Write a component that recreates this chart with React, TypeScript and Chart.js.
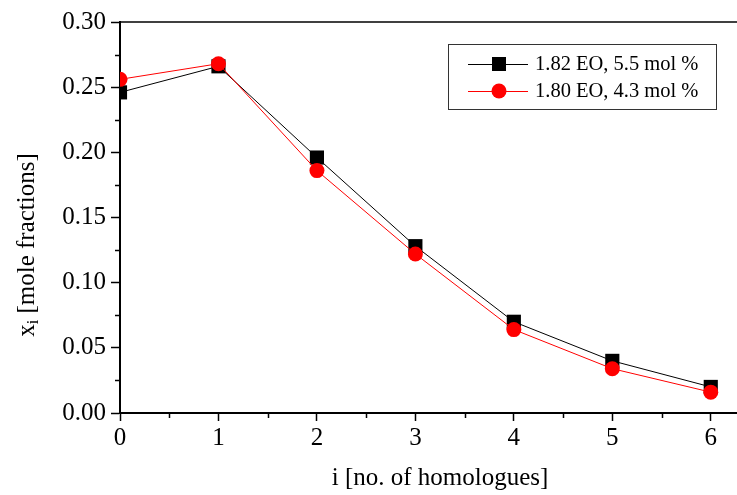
import React, { useEffect, useRef } from 'react';
import { Chart, registerables } from 'chart.js';
Chart.register(...registerables);

const homologues = [0, 1, 2, 3, 4, 5, 6];
const seriesA = [0.246, 0.266, 0.196, 0.128, 0.07, 0.04, 0.02];
const seriesB = [0.256, 0.268, 0.186, 0.122, 0.064, 0.034, 0.016];
const labelA = '1.82 EO, 5.5 mol %';
const labelB = '1.80 EO, 4.3 mol %';
const xTickValues = [0, 1, 2, 3, 4, 5, 6];
const xMinorValues = [0.5, 1.5, 2.5, 3.5, 4.5, 5.5];
const yTickValues = [0, 0.05, 0.1, 0.15, 0.2, 0.25, 0.3];
const yMinorValues = [0.025, 0.075, 0.125, 0.175, 0.225, 0.275];
const xTitle = 'i [no. of homologues]';
const yTitleMain = 'x';
const yTitleSub = 'i';
const yTitleRest = ' [mole fractions]';

const FONT = "'Liberation Serif', 'Times New Roman', serif";

const decoPlugin = {
  id: 'deco',
  afterDraw(chart: any) {
    const ctx = chart.ctx;
    const { left, right, top, bottom } = chart.chartArea;
    const xs = chart.scales.x;
    const ys = chart.scales.y;
    ctx.save();
    // top frame line
    ctx.strokeStyle = '#000';
    ctx.lineWidth = 1.5;
    ctx.beginPath();
    ctx.moveTo(left, top);
    ctx.lineTo(right, top);
    ctx.stroke();
    // minor ticks
    ctx.lineWidth = 1.5;
    ctx.beginPath();
    xMinorValues.forEach((v) => {
      const px = Math.round(xs.getPixelForValue(v)) + 0.5;
      ctx.moveTo(px, bottom);
      ctx.lineTo(px, bottom + 5);
    });
    yMinorValues.forEach((v) => {
      const py = Math.round(ys.getPixelForValue(v)) + 0.5;
      ctx.moveTo(left, py);
      ctx.lineTo(left - 5, py);
    });
    ctx.stroke();

    // y title with subscript
    ctx.translate(27, 245);
    ctx.rotate(-Math.PI / 2);
    ctx.fillStyle = '#000';
    ctx.textBaseline = 'middle';
    ctx.textAlign = 'left';
    ctx.font = `25px ${FONT}`;
    const w1 = ctx.measureText(yTitleMain).width;
    const w3 = ctx.measureText(yTitleRest).width;
    ctx.font = `16px ${FONT}`;
    const w2 = ctx.measureText(yTitleSub).width;
    const start = -(w1 + w2 + w3) / 2;
    ctx.font = `25px ${FONT}`;
    ctx.fillText(yTitleMain, start, 0);
    ctx.font = `16px ${FONT}`;
    ctx.fillText(yTitleSub, start + w1, 7);
    ctx.font = `25px ${FONT}`;
    ctx.fillText(yTitleRest, start + w1 + w2, 0);
    ctx.restore();

    // legend
    ctx.save();
    ctx.strokeStyle = '#333';
    ctx.lineWidth = 1;
    ctx.strokeRect(448.5, 44.5, 268, 65);
    const entries = chart.data.datasets.map((ds: any, i: number) => ({ ds, y: i === 0 ? 64 : 91 }));
    entries.forEach(({ ds, y }: any) => {
      ctx.strokeStyle = ds.borderColor;
      ctx.lineWidth = 1;
      ctx.beginPath();
      ctx.moveTo(468, y + 0.5);
      ctx.lineTo(528, y + 0.5);
      ctx.stroke();
      ctx.fillStyle = ds.backgroundColor;
      if (ds.pointStyle === 'rect') {
        ctx.fillRect(492, y - 7, 14, 14);
      } else {
        ctx.beginPath();
        ctx.arc(499, y, 7.5, 0, Math.PI * 2);
        ctx.fill();
      }
      ctx.fillStyle = '#000';
      ctx.font = `20.5px ${FONT}`;
      ctx.textBaseline = 'middle';
      ctx.textAlign = 'left';
      ctx.fillText(ds.label, 535, y + 1);
    });
    ctx.restore();
  },
};

export default function App() {
  const ref = useRef<HTMLCanvasElement>(null);
  useEffect(() => {
    if (!ref.current) return;
    const chart = new Chart(ref.current, {
      type: 'line',
      data: {
        datasets: [
          {
            label: labelA,
            data: homologues.map((x, i) => ({ x, y: seriesA[i] })),
            borderColor: '#000',
            backgroundColor: '#000',
            borderWidth: 1,
            pointStyle: 'rect',
            pointRadius: 10,
            pointBorderWidth: 0,
            order: 2,
          },
          {
            label: labelB,
            data: homologues.map((x, i) => ({ x, y: seriesB[i] })),
            borderColor: '#ff0000',
            backgroundColor: '#ff0000',
            borderWidth: 1,
            pointStyle: 'circle',
            pointRadius: 7.5,
            pointBorderWidth: 0,
            order: 1,
          },
        ],
      },
      options: {
        responsive: false,
        animation: false,
        layout: { padding: { top: 22, right: 10, left: 0, bottom: 0 } },
        plugins: { legend: { display: false }, tooltip: { enabled: false } },
        scales: {
          x: {
            type: 'linear',
            min: 0,
            max: 6.5,
            afterBuildTicks: (s: any) => {
              s.ticks = xTickValues.map((v) => ({ value: v }));
            },
            afterFit: (s: any) => {
              s.height = 82;
            },
            ticks: {
              color: '#000',
              font: { family: FONT, size: 25 },
              padding: 2,
              maxRotation: 0,
              callback: (v: any) => String(v),
            },
            grid: { drawOnChartArea: false, drawTicks: true, tickLength: 8, tickColor: '#000', tickWidth: 1.5 },
            border: { color: '#000', width: 2 },
            title: {
              display: true,
              text: xTitle,
              color: '#000',
              font: { family: FONT, size: 25 },
              padding: { top: 0, bottom: 2 },
            },
          },
          y: {
            type: 'linear',
            min: 0,
            max: 0.3,
            afterBuildTicks: (s: any) => {
              s.ticks = yTickValues.map((v) => ({ value: v }));
            },
            afterFit: (s: any) => {
              s.width = 120;
            },
            ticks: {
              color: '#000',
              font: { family: FONT, size: 25 },
              padding: 5,
              callback: (v: any) => Number(v).toFixed(2),
            },
            grid: { drawOnChartArea: false, drawTicks: true, tickLength: 9, tickColor: '#000', tickWidth: 1.5 },
            border: { color: '#000', width: 2 },
          },
        },
      },
      plugins: [decoPlugin],
    } as any);
    return () => chart.destroy();
  }, []);
  return (
    <div style={{ position: 'fixed', left: 0, top: 0, width: 737, height: 495, overflow: 'hidden', background: '#fff' }}>
      <canvas ref={ref} width={770} height={495} style={{ display: 'block' }} />
    </div>
  );
}
